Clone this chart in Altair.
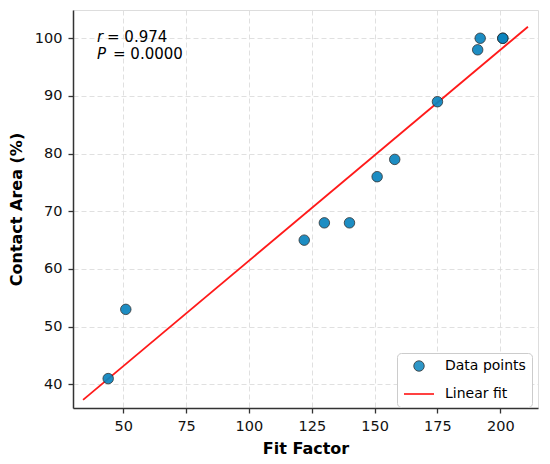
import altair as alt
import pandas as pd

# Data
fit_factor = [44, 51, 122, 130, 140, 151, 158, 175, 191, 192, 201, 201]
contact_area = [41, 53, 65, 68, 68, 76, 79, 89, 98, 100, 100, 100]

fit_x = [34, 211]
fit_y = [37.3, 102.0]

x_ticks = [50, 75, 100, 125, 150, 175, 200]
y_ticks = [40, 50, 60, 70, 80, 90, 100]

series_names = ["Data points", "Linear fit"]

pts = pd.DataFrame({"x": fit_factor, "y": contact_area, "series": series_names[0]})
fit = pd.DataFrame({"x": fit_x, "y": fit_y, "series": series_names[1]})

FONT = "DejaVu Sans"

xscale = alt.Scale(domain=[30, 215], nice=False, zero=False)
yscale = alt.Scale(domain=[35.9, 104.9], nice=False, zero=False)

fill_scale = alt.Scale(domain=series_names, range=["#0a84be", "transparent"])
stroke_scale = alt.Scale(domain=series_names, range=["#222222", "#ff1a1a"])
shape_scale = alt.Scale(domain=series_names, range=["circle", "stroke"])
size_scale = alt.Scale(type="ordinal", domain=series_names, range=[110, 900])
sw_scale = alt.Scale(type="ordinal", domain=series_names, range=[0.8, 1.8])

legend = alt.Legend(
    title=None,
    orient="none",
    legendX=324,
    legendY=343,
    padding=6,
    strokeColor="#cccccc",
    fillColor="white",
    cornerRadius=4,
    labelFont=FONT,
    labelFontSize=14,
    labelColor="#000000",
    labelOffset=10,
    rowPadding=5,
)

x_axis = alt.Axis(
    title="Fit Factor",
    values=x_ticks,
    grid=True,
    gridColor="#dddddd",
    gridDash=[5, 3],
    gridWidth=0.9,
    domainColor="#333333",
    domainWidth=1.5,
    tickColor="#333333",
    tickWidth=1.3,
    tickSize=5,
    labelPadding=6,
    labelFont=FONT,
    labelFontSize=14.5,
    labelColor="#111111",
    titleFont=FONT,
    titleFontSize=16,
    titleFontWeight="bold",
    titleColor="#000000",
    titlePadding=8,
)

y_axis = alt.Axis(
    title="Contact Area (%)",
    values=y_ticks,
    grid=True,
    gridColor="#dddddd",
    gridDash=[5, 3],
    gridWidth=0.9,
    domainColor="#333333",
    domainWidth=1.5,
    tickColor="#333333",
    tickWidth=1.3,
    tickSize=5,
    labelPadding=6,
    labelFont=FONT,
    labelFontSize=14.5,
    labelColor="#111111",
    titleFont=FONT,
    titleFontSize=16,
    titleFontWeight="bold",
    titleColor="#000000",
    titlePadding=10,
)

points = alt.Chart(pts).mark_point(filled=True, opacity=0.92).encode(
    x=alt.X("x:Q", scale=xscale, axis=x_axis),
    y=alt.Y("y:Q", scale=yscale, axis=y_axis),
    fill=alt.Fill("series:N", scale=fill_scale, legend=legend),
    stroke=alt.Stroke("series:N", scale=stroke_scale, legend=legend),
    shape=alt.Shape("series:N", scale=shape_scale, legend=legend),
    size=alt.Size("series:N", scale=size_scale, legend=legend),
    strokeWidth=alt.StrokeWidth("series:N", scale=sw_scale, legend=legend),
)

line = alt.Chart(fit).mark_line(clip=True).encode(
    x=alt.X("x:Q", scale=xscale),
    y=alt.Y("y:Q", scale=yscale),
    stroke=alt.Stroke("series:N", scale=stroke_scale, legend=legend),
    strokeWidth=alt.StrokeWidth("series:N", scale=sw_scale, legend=legend),
)

ann_df = pd.DataFrame({"a": [0]})
ann_base = alt.Chart(ann_df)
r_sym = ann_base.mark_text(
    text="r", font=FONT, fontSize=15, fontStyle="italic", align="left", baseline="alphabetic", color="#000000"
).encode(x=alt.value(24), y=alt.value(31.7))
r_val = ann_base.mark_text(
    text="= 0.974", font=FONT, fontSize=15, align="left", baseline="alphabetic", color="#000000"
).encode(x=alt.value(34), y=alt.value(31.7))
p_sym = ann_base.mark_text(
    text="P", font=FONT, fontSize=15, fontStyle="italic", align="left", baseline="alphabetic", color="#000000"
).encode(x=alt.value(24), y=alt.value(49))
p_val = ann_base.mark_text(
    text="= 0.0000", font=FONT, fontSize=15, align="left", baseline="alphabetic", color="#000000"
).encode(x=alt.value(40), y=alt.value(49))

chart = alt.layer(line, points, r_sym, r_val, p_sym, p_val).properties(
    width=465,
    height=398,
    padding={"left": 65, "top": 2, "right": 4, "bottom": 53},
    autosize=alt.AutoSizeParams(type="none"),
).configure_view(stroke=None).configure(background="white")

chart.save("out.html", embed_options={"renderer": "svg", "actions": False})
